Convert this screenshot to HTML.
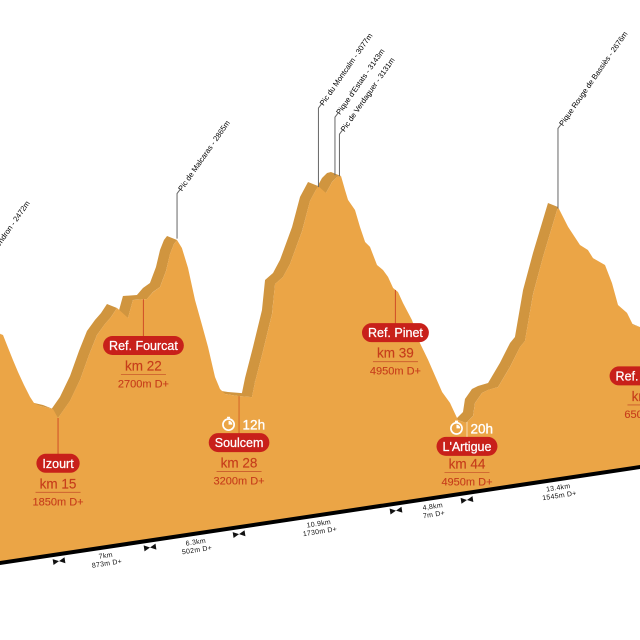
<!DOCTYPE html>
<html lang="en">
<head>
<meta charset="utf-8">
<title>Elevation profile</title>
<style>
html,body{margin:0;padding:0;background:#fff;width:640px;height:640px;overflow:hidden}
svg{display:block;font-family:"Liberation Sans",sans-serif}
</style>
</head>
<body>
<svg id="chart" xmlns="http://www.w3.org/2000/svg" width="640" height="640" viewBox="0 0 640 640"></svg>
<script>
// Profile: distance (km) and elevation (m)
const profileKm = [8.57,10.5,10.93,11.29,11.64,12,12.43,12.86,13.14,13.57,14.5,14.86,15.71,16.43,17.07,17.64,18.21,18.64,19.07,19.86,20.21,21.21,21.64,22.14,22.57,22.86,23.14,23.36,23.71,24.14,24.64,25.14,25.57,26.07,26.43,26.79,27.71,28.71,28.93,29.5,30.14,30.36,30.93,31.43,32.29,32.86,33.43,34,34.43,34.79,35.07,35.36,35.57,36.07,36.43,36.79,37.14,37.64,38.07,38.43,38.79,39.14,39.5,40.14,40.71,41.29,42.29,42.86,43.29,43.43,44,44.5,44.64,45.14,45.57,46.29,47.14,47.86,48.21,48.79,49.5,50.57,51.29,52.14,52.71,53.07,53.93,54.43,54.86,55.5,55.93,56.43,57.14,58.57];
const profileEle = [2303,2393,2373,2277,2187,2098,2001,1911,1864,1837,1802,1734,1841,1977,2143,2274,2343,2385,2442,2361,2481,2474,2516,2544,2650,2765,2830,2855,2794,2648,2416,2234,2074,1856,1767,1727,1699,1677,1779,1988,2237,2444,2485,2569,2787,2989,3085,3028,3098,3128,3131,3029,2956,2878,2754,2644,2604,2470,2429,2375,2292,2259,2177,2048,1879,1752,1513,1428,1330,1300,1271,1312,1401,1464,1479,1489,1617,1746,1783,2103,2352,2686,2536,2397,2354,2292,2231,2097,1937,1872,1781,1760,1715,1323];

// Summits
const peakNames = ["Pic de Cendron","Pic de Malcaras","Pic du Montcalm","Pique d'Estats","Pic de Verdaguer","Pique Rouge de Bassiès"];
const peakKm = [9.14,23.36,33.46,34.64,34.96,50.57];
const peakEle = [2472,2865,3077,3143,3131,2676];
const peakStemMetres = [364,315,553,406,294,560];

// Stations
const stationNames = ["Izourt","Ref. Fourcat","Soulcem","Ref. Pinet","L'Artigue","Ref. Chioula"];
const stationKm = [14.86,20.96,27.79,38.96,44.07,57.14];
const stationKmLabels = ["km 15","km 22","km 28","km 39","km 44","km 57"];
const stationGain = ["1850m D+","2700m D+","3200m D+","4950m D+","4950m D+","6500m D+"];
const stationLabelEle = [1417,2152,1372,1977,1106,1407];
const stationTimes = ["","","12h","","20h",""];

// Segments between stations
const markerKm = [14.93,21.43,27.79,39,44.07,56.93];
const segmentDist = ["7km","6.3km","10.9km","4,8km","13.4km"];
const segmentGain = ["873m D+","502m D+","1730m D+","7m D+","1545m D+"];

const NS = "http://www.w3.org/2000/svg";
const svg = document.getElementById("chart");
const SLOPE = 0.15, BASE0 = 563, ANGLE = -Math.atan(SLOPE) * 180 / Math.PI;
const xScale = km => 14 * km - 150;
const baseY = x => BASE0 - SLOPE * x;
const yScale = (km, ele) => { const x = xScale(km); return baseY(x) - (ele - 780) / 7; };
const eleAt = km => {
  for (let i = 1; i < profileKm.length; i++) {
    if (km <= profileKm[i]) {
      const t = (km - profileKm[i-1]) / (profileKm[i] - profileKm[i-1]);
      return profileEle[i-1] + t * (profileEle[i] - profileEle[i-1]);
    }
  }
  return profileEle[profileEle.length - 1];
};
function make(tag, attrs, parent, txt) {
  const e = document.createElementNS(NS, tag);
  for (const k in attrs) e.setAttribute(k, attrs[k]);
  if (txt !== undefined) e.textContent = txt;
  (parent || svg).appendChild(e);
  return e;
}
const pts = profileKm.map((k, i) => [xScale(k), yScale(k, profileEle[i])]);
const OFF = [-10, -4];

// Extrusion shade
let shade = "";
for (let i = 1; i < pts.length; i++) {
  const a = pts[i-1], b = pts[i];
  const cross = (b[0]-a[0]) * OFF[1] - (b[1]-a[1]) * OFF[0];
  if (cross < 0) {
    shade += `M${a[0]} ${a[1]}L${b[0]} ${b[1]}L${b[0]+OFF[0]} ${b[1]+OFF[1]}L${a[0]+OFF[0]} ${a[1]+OFF[1]}Z`;
  }
}
const shadeEl = make("path", {d: shade, fill: "#d0953f"});



// Front face
const first = pts[0], last = pts[pts.length - 1];
const faceD = "M" + pts.map(p => p[0].toFixed(1) + " " + p[1].toFixed(1)).join("L") +
  `L${last[0]} ${baseY(last[0])}L${first[0]} ${baseY(first[0])}Z`;
const faceEl = make("path", {d: faceD, fill: "#eba546"});



// Baseline
const baseEl = make("line", {x1: -40, y1: baseY(-40), x2: 700, y2: baseY(700), stroke: "#000", "stroke-width": 4});



// Summit leaders and labels
peakNames.forEach((name, i) => {
  const x = xScale(peakKm[i]), y = yScale(peakKm[i], peakEle[i]);
  const top = y - peakStemMetres[i] / 7;
  const leader = make("path", {d: `M${x} ${y}L${x} ${top}L${x+3} ${top-4}`, fill: "none", stroke: "#666", "stroke-width": 1});
  
  
  const label = make("text", {x: 0, y: 0, "font-size": 7.6, fill: "#000",
    transform: `translate(${x+5} ${top-2}) rotate(-55)`}, svg, name + " - " + peakEle[i] + "m");
  
  
});

// Stations
stationNames.forEach((name, i) => {
  const km = stationKm[i], x = xScale(km);
  const cy = baseY(x) - (stationLabelEle[i] - 780) / 7;
  const topY = yScale(km, eleAt(km));
  const timed = stationTimes[i] !== "";
  const leader = make("line", {x1: x, y1: topY, x2: x, y2: cy - 8,
    stroke: i === 4 ? "#f3c98c" : (timed ? "#dc7a32" : "#d2552a"), "stroke-width": timed ? 1.5 : 1.1});
  
  

  const pill = make("rect", {y: cy - 9.5, height: 19, fill: "#c8201a"});
  
  
  const t = make("text", {x: x, y: cy + 4.5, "font-size": 12.5, fill: "#fff", stroke: "#fff", "stroke-width": 0.25, "text-anchor": "middle"}, svg, name);
  
  
  const w = t.getComputedTextLength() + 12;
  pill.setAttribute("x", x - w / 2);
  pill.setAttribute("width", w);
  pill.setAttribute("rx", 9.5);

  const shift = i === 4 ? -3 : 0;
  const kmT = make("text", {x: x, y: cy + 25 + shift, "font-size": 13.5, fill: "#c63d1b", stroke: "#c63d1b", "stroke-width": 0.15, "text-anchor": "middle"}, svg, stationKmLabels[i]);
  
  
  const rule = make("line", {x1: x - 22.5, x2: x + 22.5, y1: cy + 29 + shift, y2: cy + 29 + shift, stroke: "#c9582b", "stroke-width": 0.8});
  
  
  const gainT = make("text", {x: x, y: cy + 42 + shift, "font-size": 11, fill: "#c63d1b", stroke: "#c63d1b", "stroke-width": 0.12, "text-anchor": "middle"}, svg, stationGain[i]);
  
  

  if (timed) {
    const cyc = cy - 18, cxc = x - 10.5;
    const clock = make("g", {});
    
    
    make("circle", {cx: cxc, cy: cyc, r: 5.6, fill: "none", stroke: "#fff", "stroke-width": 1.7}, clock);
    make("rect", {x: cxc - 1.5, y: cyc - 7.8, width: 3, height: 1.5, fill: "#fff"}, clock);
    make("path", {d: `M${cxc} ${cyc}L${cxc} ${cyc-3.8}A3.8 3.8 0 0 1 ${cxc+3.8} ${cyc}Z`, fill: "#fff"}, clock);
    const timeT = make("text", {x: x + 3.5, y: cyc + 5, "font-size": 13.5, fill: "#fff", stroke: "#fff", "stroke-width": 0.3}, svg, stationTimes[i]);
    
    
  }
});

// Segment markers
markerKm.forEach((km, i) => {
  if (i === markerKm.length - 1) return;
  const x = xScale(km), y = baseY(x) + 7;
  const bow = make("path", {d: "M-6 -3L0 0L-6 3ZM6 -3L0 0L6 3Z", fill: "#111",
    transform: `translate(${x} ${y}) rotate(${ANGLE})`});
  
  
});

// Segment labels
segmentDist.forEach((dist, i) => {
  const x = (xScale(markerKm[i]) + xScale(markerKm[i+1])) / 2, y = baseY(x);
  const g = make("g", {transform: `translate(${x} ${y}) rotate(${ANGLE})`, "font-size": 7, fill: "#111", "text-anchor": "middle", "letter-spacing": 0.25});
  
  
  const a = make("text", {x: 0, y: 10.5}, g, dist);
  
  
  const b = make("text", {x: 0, y: 18.5}, g, segmentGain[i]);
  
  
});
</script>
</body>
</html>
